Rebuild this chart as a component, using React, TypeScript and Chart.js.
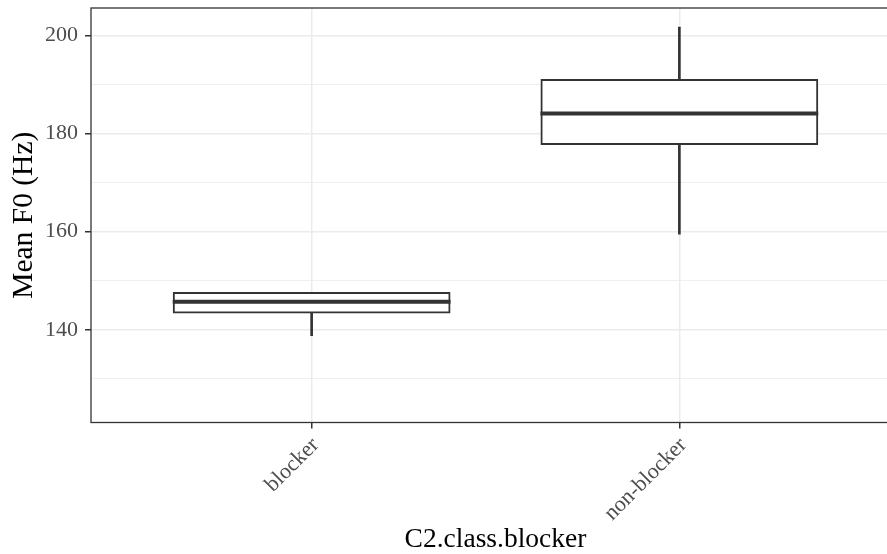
import React, { useEffect, useRef } from 'react';
import { Chart, registerables } from 'chart.js';
Chart.register(...registerables);

const categories = ['blocker', 'non-blocker'];
const whiskerLow = [138.8, 159.5];
const q1 = [143.5, 177.9];
const median = [145.7, 184.1];
const q3 = [147.5, 190.9];
const whiskerHigh = [147.5, 201.7];
const yTicks = [130, 140, 150, 160, 170, 180, 190, 200];
const yMajor = [140, 160, 180, 200];
const yMin = 121.1;
const yMax = 205.6;
const xMin = 0.4;
const xMax = 2.6;

const FONT = "'Liberation Serif', 'Times New Roman', serif";
const DARK = '#333333';
const GRID = '#ebebeb';

const boxPlugin = {
  id: 'boxExtras',
  afterDatasetsDraw(chart: any) {
    const ctx = chart.ctx;
    const meta = chart.getDatasetMeta(1);
    const ys = chart.scales.y;
    const a = chart.chartArea;
    ctx.save();
    ctx.beginPath();
    ctx.strokeStyle = DARK;
    ctx.lineWidth = 4;
    ctx.lineCap = 'butt';
    meta.data.forEach((bar: any, i: number) => {
      const { x, width } = bar.getProps(['x', 'width'], true);
      const py = ys.getPixelForValue(median[i]);
      ctx.moveTo(x - width / 2 - 1, py);
      ctx.lineTo(x + width / 2 + 1, py);
    });
    ctx.stroke();
    ctx.lineWidth = 1.3;
    ctx.strokeStyle = DARK;
    ctx.strokeRect(a.left, a.top, a.right - a.left, a.bottom - a.top);
    ctx.restore();
  },
};

export default function App() {
  const ref = useRef<HTMLCanvasElement>(null);
  useEffect(() => {
    if (!ref.current) return;
    const chart = new Chart(ref.current, {
      type: 'bar',
      data: {
        datasets: [
          {
            label: 'whisker',
            data: categories.map((_, i) => ({ x: i + 1, y: [whiskerLow[i], whiskerHigh[i]] })) as any,
            backgroundColor: DARK,
            borderWidth: 0,
            barThickness: 2,
            grouped: false,
            order: 1,
          } as any,
          {
            label: 'box',
            data: categories.map((_, i) => ({ x: i + 1, y: [q1[i], q3[i]] })) as any,
            backgroundColor: '#ffffff',
            borderColor: DARK,
            borderWidth: 2,
            borderSkipped: false,
            inflateAmount: 1,
            barPercentage: 0.75,
            categoryPercentage: 1,
            grouped: false,
            order: 0,
          } as any,
        ],
      },
      options: {
        animation: false,
        responsive: false,
        maintainAspectRatio: false,
        layout: { padding: { top: 8, left: 0, right: 0, bottom: 0 } },
        plugins: { legend: { display: false }, tooltip: { enabled: false } },
        scales: {
          x: {
            type: 'linear',
            offset: false,
            min: xMin,
            max: xMax,
            afterBuildTicks: (s: any) => {
              s.ticks = categories.map((_, i) => ({ value: i + 1 }));
            },
            afterFit: (s: any) => {
              s.height = 554 - 422.5;
              s.paddingLeft = 0;
              s.paddingRight = 0;
            },
            grid: {
              offset: false,
              color: GRID,
              lineWidth: 1.5,
              drawTicks: true,
              tickLength: 6,
              tickColor: DARK,
              tickWidth: 1.5,
            },
            border: { display: false },
            ticks: {
              autoSkip: false,
              minRotation: 45,
              maxRotation: 45,
              labelOffset: 4,
              padding: 4,
              color: '#4d4d4d',
              font: { family: FONT, size: 22 },
              callback: (v: any) => categories[Number(v) - 1] ?? '',
            },
            title: {
              display: true,
              text: 'C2.class.blocker',
              color: '#000000',
              font: { family: FONT, size: 27.5 },
              padding: { top: 0, bottom: -2 },
            },
          } as any,
          y: {
            type: 'linear',
            min: yMin,
            max: yMax,
            afterBuildTicks: (s: any) => {
              s.ticks = yTicks.map((v) => ({ value: v }));
            },
            afterFit: (s: any) => {
              s.width = 91;
              s.paddingTop = 0;
              s.paddingBottom = 0;
            },
            grid: {
              color: GRID,
              lineWidth: (c: any) => (yMajor.includes(c.tick?.value) ? 1.5 : 0.8),
              drawTicks: true,
              tickLength: 6,
              tickColor: (c: any) => (yMajor.includes(c.tick?.value) ? DARK : 'rgba(0,0,0,0)'),
              tickWidth: 1.5,
            },
            border: { display: false },
            ticks: {
              padding: 7,
              color: '#4d4d4d',
              font: { family: FONT, size: 22 },
              callback: (v: any) => (yMajor.includes(Number(v)) ? String(v) : ''),
            },
            title: {
              display: true,
              text: 'Mean F0 (Hz)',
              color: '#000000',
              font: { family: FONT, size: 29.5 },
              padding: { top: 7, bottom: 0 },
            },
          } as any,
        },
      },
      plugins: [boxPlugin],
    } as any);
    return () => chart.destroy();
  }, []);
  return (
    <div
      style={{
        position: 'fixed',
        left: 0,
        top: 0,
        width: 887,
        height: 554,
        overflow: 'hidden',
        background: '#ffffff',
      }}
    >
      <canvas ref={ref} width={900} height={554} style={{ display: 'block', width: 900, height: 554 }} />
    </div>
  );
}
